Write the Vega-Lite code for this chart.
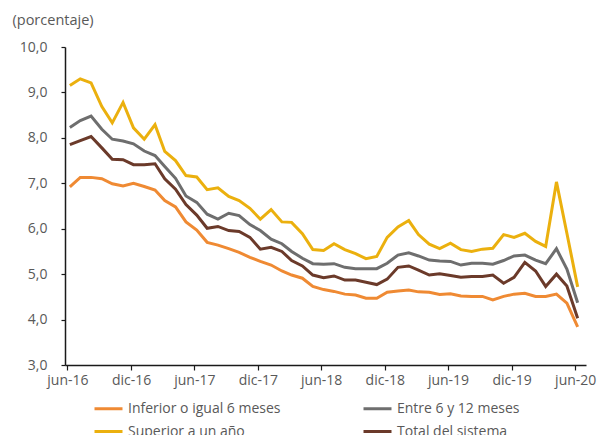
{
  "$schema": "https://vega.github.io/schema/vega-lite/v6.json",
  "width": 521,
  "height": 318,
  "autosize": {"type": "none"},
  "padding": {"left": 65, "top": 47, "right": 14, "bottom": 70},
  "background": "white",
  "config": {
    "view": {"stroke": null},
    "font": "Open Sans",
    "axis": {"grid": false}
  },
  "data": {
    "values": [
      {"d": "2016-06-15", "s": "Inferior o igual 6 meses", "v": 6.92},
      {"d": "2016-07-15", "s": "Inferior o igual 6 meses", "v": 7.13},
      {"d": "2016-08-15", "s": "Inferior o igual 6 meses", "v": 7.13},
      {"d": "2016-09-15", "s": "Inferior o igual 6 meses", "v": 7.10},
      {"d": "2016-10-15", "s": "Inferior o igual 6 meses", "v": 6.99},
      {"d": "2016-11-15", "s": "Inferior o igual 6 meses", "v": 6.94},
      {"d": "2016-12-15", "s": "Inferior o igual 6 meses", "v": 7.00},
      {"d": "2017-01-15", "s": "Inferior o igual 6 meses", "v": 6.93},
      {"d": "2017-02-15", "s": "Inferior o igual 6 meses", "v": 6.85},
      {"d": "2017-03-15", "s": "Inferior o igual 6 meses", "v": 6.62},
      {"d": "2017-04-15", "s": "Inferior o igual 6 meses", "v": 6.48},
      {"d": "2017-05-15", "s": "Inferior o igual 6 meses", "v": 6.15},
      {"d": "2017-06-15", "s": "Inferior o igual 6 meses", "v": 5.97},
      {"d": "2017-07-15", "s": "Inferior o igual 6 meses", "v": 5.70},
      {"d": "2017-08-15", "s": "Inferior o igual 6 meses", "v": 5.64},
      {"d": "2017-09-15", "s": "Inferior o igual 6 meses", "v": 5.56},
      {"d": "2017-10-15", "s": "Inferior o igual 6 meses", "v": 5.48},
      {"d": "2017-11-15", "s": "Inferior o igual 6 meses", "v": 5.37},
      {"d": "2017-12-15", "s": "Inferior o igual 6 meses", "v": 5.28},
      {"d": "2018-01-15", "s": "Inferior o igual 6 meses", "v": 5.20},
      {"d": "2018-02-15", "s": "Inferior o igual 6 meses", "v": 5.07},
      {"d": "2018-03-15", "s": "Inferior o igual 6 meses", "v": 4.98},
      {"d": "2018-04-15", "s": "Inferior o igual 6 meses", "v": 4.91},
      {"d": "2018-05-15", "s": "Inferior o igual 6 meses", "v": 4.73},
      {"d": "2018-06-15", "s": "Inferior o igual 6 meses", "v": 4.66},
      {"d": "2018-07-15", "s": "Inferior o igual 6 meses", "v": 4.62},
      {"d": "2018-08-15", "s": "Inferior o igual 6 meses", "v": 4.56},
      {"d": "2018-09-15", "s": "Inferior o igual 6 meses", "v": 4.54},
      {"d": "2018-10-15", "s": "Inferior o igual 6 meses", "v": 4.47},
      {"d": "2018-11-15", "s": "Inferior o igual 6 meses", "v": 4.47},
      {"d": "2018-12-15", "s": "Inferior o igual 6 meses", "v": 4.60},
      {"d": "2019-01-15", "s": "Inferior o igual 6 meses", "v": 4.63},
      {"d": "2019-02-15", "s": "Inferior o igual 6 meses", "v": 4.65},
      {"d": "2019-03-15", "s": "Inferior o igual 6 meses", "v": 4.61},
      {"d": "2019-04-15", "s": "Inferior o igual 6 meses", "v": 4.60},
      {"d": "2019-05-15", "s": "Inferior o igual 6 meses", "v": 4.55},
      {"d": "2019-06-15", "s": "Inferior o igual 6 meses", "v": 4.57},
      {"d": "2019-07-15", "s": "Inferior o igual 6 meses", "v": 4.52},
      {"d": "2019-08-15", "s": "Inferior o igual 6 meses", "v": 4.51},
      {"d": "2019-09-15", "s": "Inferior o igual 6 meses", "v": 4.51},
      {"d": "2019-10-15", "s": "Inferior o igual 6 meses", "v": 4.43},
      {"d": "2019-11-15", "s": "Inferior o igual 6 meses", "v": 4.51},
      {"d": "2019-12-15", "s": "Inferior o igual 6 meses", "v": 4.56},
      {"d": "2020-01-15", "s": "Inferior o igual 6 meses", "v": 4.58},
      {"d": "2020-02-15", "s": "Inferior o igual 6 meses", "v": 4.51},
      {"d": "2020-03-15", "s": "Inferior o igual 6 meses", "v": 4.51},
      {"d": "2020-04-15", "s": "Inferior o igual 6 meses", "v": 4.56},
      {"d": "2020-05-15", "s": "Inferior o igual 6 meses", "v": 4.36},
      {"d": "2020-06-15", "s": "Inferior o igual 6 meses", "v": 3.84},

      {"d": "2016-06-15", "s": "Entre 6 y 12 meses", "v": 8.23},
      {"d": "2016-07-15", "s": "Entre 6 y 12 meses", "v": 8.38},
      {"d": "2016-08-15", "s": "Entre 6 y 12 meses", "v": 8.48},
      {"d": "2016-09-15", "s": "Entre 6 y 12 meses", "v": 8.19},
      {"d": "2016-10-15", "s": "Entre 6 y 12 meses", "v": 7.97},
      {"d": "2016-11-15", "s": "Entre 6 y 12 meses", "v": 7.93},
      {"d": "2016-12-15", "s": "Entre 6 y 12 meses", "v": 7.87},
      {"d": "2017-01-15", "s": "Entre 6 y 12 meses", "v": 7.71},
      {"d": "2017-02-15", "s": "Entre 6 y 12 meses", "v": 7.61},
      {"d": "2017-03-15", "s": "Entre 6 y 12 meses", "v": 7.37},
      {"d": "2017-04-15", "s": "Entre 6 y 12 meses", "v": 7.11},
      {"d": "2017-05-15", "s": "Entre 6 y 12 meses", "v": 6.72},
      {"d": "2017-06-15", "s": "Entre 6 y 12 meses", "v": 6.58},
      {"d": "2017-07-15", "s": "Entre 6 y 12 meses", "v": 6.32},
      {"d": "2017-08-15", "s": "Entre 6 y 12 meses", "v": 6.21},
      {"d": "2017-09-15", "s": "Entre 6 y 12 meses", "v": 6.34},
      {"d": "2017-10-15", "s": "Entre 6 y 12 meses", "v": 6.29},
      {"d": "2017-11-15", "s": "Entre 6 y 12 meses", "v": 6.09},
      {"d": "2017-12-15", "s": "Entre 6 y 12 meses", "v": 5.96},
      {"d": "2018-01-15", "s": "Entre 6 y 12 meses", "v": 5.77},
      {"d": "2018-02-15", "s": "Entre 6 y 12 meses", "v": 5.67},
      {"d": "2018-03-15", "s": "Entre 6 y 12 meses", "v": 5.50},
      {"d": "2018-04-15", "s": "Entre 6 y 12 meses", "v": 5.35},
      {"d": "2018-05-15", "s": "Entre 6 y 12 meses", "v": 5.23},
      {"d": "2018-06-15", "s": "Entre 6 y 12 meses", "v": 5.22},
      {"d": "2018-07-15", "s": "Entre 6 y 12 meses", "v": 5.23},
      {"d": "2018-08-15", "s": "Entre 6 y 12 meses", "v": 5.15},
      {"d": "2018-09-15", "s": "Entre 6 y 12 meses", "v": 5.12},
      {"d": "2018-10-15", "s": "Entre 6 y 12 meses", "v": 5.12},
      {"d": "2018-11-15", "s": "Entre 6 y 12 meses", "v": 5.12},
      {"d": "2018-12-15", "s": "Entre 6 y 12 meses", "v": 5.24},
      {"d": "2019-01-15", "s": "Entre 6 y 12 meses", "v": 5.42},
      {"d": "2019-02-15", "s": "Entre 6 y 12 meses", "v": 5.47},
      {"d": "2019-03-15", "s": "Entre 6 y 12 meses", "v": 5.40},
      {"d": "2019-04-15", "s": "Entre 6 y 12 meses", "v": 5.31},
      {"d": "2019-05-15", "s": "Entre 6 y 12 meses", "v": 5.29},
      {"d": "2019-06-15", "s": "Entre 6 y 12 meses", "v": 5.28},
      {"d": "2019-07-15", "s": "Entre 6 y 12 meses", "v": 5.20},
      {"d": "2019-08-15", "s": "Entre 6 y 12 meses", "v": 5.24},
      {"d": "2019-09-15", "s": "Entre 6 y 12 meses", "v": 5.24},
      {"d": "2019-10-15", "s": "Entre 6 y 12 meses", "v": 5.22},
      {"d": "2019-11-15", "s": "Entre 6 y 12 meses", "v": 5.30},
      {"d": "2019-12-15", "s": "Entre 6 y 12 meses", "v": 5.40},
      {"d": "2020-01-15", "s": "Entre 6 y 12 meses", "v": 5.42},
      {"d": "2020-02-15", "s": "Entre 6 y 12 meses", "v": 5.31},
      {"d": "2020-03-15", "s": "Entre 6 y 12 meses", "v": 5.23},
      {"d": "2020-04-15", "s": "Entre 6 y 12 meses", "v": 5.56},
      {"d": "2020-05-15", "s": "Entre 6 y 12 meses", "v": 5.11},
      {"d": "2020-06-15", "s": "Entre 6 y 12 meses", "v": 4.37},

      {"d": "2016-06-15", "s": "Superior a un año", "v": 9.15},
      {"d": "2016-07-15", "s": "Superior a un año", "v": 9.30},
      {"d": "2016-08-15", "s": "Superior a un año", "v": 9.21},
      {"d": "2016-09-15", "s": "Superior a un año", "v": 8.69},
      {"d": "2016-10-15", "s": "Superior a un año", "v": 8.33},
      {"d": "2016-11-15", "s": "Superior a un año", "v": 8.78},
      {"d": "2016-12-15", "s": "Superior a un año", "v": 8.22},
      {"d": "2017-01-15", "s": "Superior a un año", "v": 7.97},
      {"d": "2017-02-15", "s": "Superior a un año", "v": 8.29},
      {"d": "2017-03-15", "s": "Superior a un año", "v": 7.70},
      {"d": "2017-04-15", "s": "Superior a un año", "v": 7.50},
      {"d": "2017-05-15", "s": "Superior a un año", "v": 7.17},
      {"d": "2017-06-15", "s": "Superior a un año", "v": 7.14},
      {"d": "2017-07-15", "s": "Superior a un año", "v": 6.86},
      {"d": "2017-08-15", "s": "Superior a un año", "v": 6.90},
      {"d": "2017-09-15", "s": "Superior a un año", "v": 6.71},
      {"d": "2017-10-15", "s": "Superior a un año", "v": 6.62},
      {"d": "2017-11-15", "s": "Superior a un año", "v": 6.45},
      {"d": "2017-12-15", "s": "Superior a un año", "v": 6.21},
      {"d": "2018-01-15", "s": "Superior a un año", "v": 6.42},
      {"d": "2018-02-15", "s": "Superior a un año", "v": 6.15},
      {"d": "2018-03-15", "s": "Superior a un año", "v": 6.14},
      {"d": "2018-04-15", "s": "Superior a un año", "v": 5.89},
      {"d": "2018-05-15", "s": "Superior a un año", "v": 5.54},
      {"d": "2018-06-15", "s": "Superior a un año", "v": 5.52},
      {"d": "2018-07-15", "s": "Superior a un año", "v": 5.67},
      {"d": "2018-08-15", "s": "Superior a un año", "v": 5.54},
      {"d": "2018-09-15", "s": "Superior a un año", "v": 5.45},
      {"d": "2018-10-15", "s": "Superior a un año", "v": 5.34},
      {"d": "2018-11-15", "s": "Superior a un año", "v": 5.39},
      {"d": "2018-12-15", "s": "Superior a un año", "v": 5.81},
      {"d": "2019-01-15", "s": "Superior a un año", "v": 6.04},
      {"d": "2019-02-15", "s": "Superior a un año", "v": 6.18},
      {"d": "2019-03-15", "s": "Superior a un año", "v": 5.87},
      {"d": "2019-04-15", "s": "Superior a un año", "v": 5.66},
      {"d": "2019-05-15", "s": "Superior a un año", "v": 5.56},
      {"d": "2019-06-15", "s": "Superior a un año", "v": 5.68},
      {"d": "2019-07-15", "s": "Superior a un año", "v": 5.54},
      {"d": "2019-08-15", "s": "Superior a un año", "v": 5.50},
      {"d": "2019-09-15", "s": "Superior a un año", "v": 5.55},
      {"d": "2019-10-15", "s": "Superior a un año", "v": 5.57},
      {"d": "2019-11-15", "s": "Superior a un año", "v": 5.87},
      {"d": "2019-12-15", "s": "Superior a un año", "v": 5.81},
      {"d": "2020-01-15", "s": "Superior a un año", "v": 5.90},
      {"d": "2020-02-15", "s": "Superior a un año", "v": 5.72},
      {"d": "2020-03-15", "s": "Superior a un año", "v": 5.61},
      {"d": "2020-04-15", "s": "Superior a un año", "v": 7.03},
      {"d": "2020-05-15", "s": "Superior a un año", "v": 5.90},
      {"d": "2020-06-15", "s": "Superior a un año", "v": 4.72},

      {"d": "2016-06-15", "s": "Total del sistema", "v": 7.85},
      {"d": "2016-07-15", "s": "Total del sistema", "v": 7.94},
      {"d": "2016-08-15", "s": "Total del sistema", "v": 8.03},
      {"d": "2016-09-15", "s": "Total del sistema", "v": 7.78},
      {"d": "2016-10-15", "s": "Total del sistema", "v": 7.53},
      {"d": "2016-11-15", "s": "Total del sistema", "v": 7.52},
      {"d": "2016-12-15", "s": "Total del sistema", "v": 7.41},
      {"d": "2017-01-15", "s": "Total del sistema", "v": 7.41},
      {"d": "2017-02-15", "s": "Total del sistema", "v": 7.43},
      {"d": "2017-03-15", "s": "Total del sistema", "v": 7.10},
      {"d": "2017-04-15", "s": "Total del sistema", "v": 6.87},
      {"d": "2017-05-15", "s": "Total del sistema", "v": 6.53},
      {"d": "2017-06-15", "s": "Total del sistema", "v": 6.30},
      {"d": "2017-07-15", "s": "Total del sistema", "v": 6.01},
      {"d": "2017-08-15", "s": "Total del sistema", "v": 6.05},
      {"d": "2017-09-15", "s": "Total del sistema", "v": 5.96},
      {"d": "2017-10-15", "s": "Total del sistema", "v": 5.94},
      {"d": "2017-11-15", "s": "Total del sistema", "v": 5.81},
      {"d": "2017-12-15", "s": "Total del sistema", "v": 5.55},
      {"d": "2018-01-15", "s": "Total del sistema", "v": 5.59},
      {"d": "2018-02-15", "s": "Total del sistema", "v": 5.50},
      {"d": "2018-03-15", "s": "Total del sistema", "v": 5.30},
      {"d": "2018-04-15", "s": "Total del sistema", "v": 5.18},
      {"d": "2018-05-15", "s": "Total del sistema", "v": 4.98},
      {"d": "2018-06-15", "s": "Total del sistema", "v": 4.92},
      {"d": "2018-07-15", "s": "Total del sistema", "v": 4.96},
      {"d": "2018-08-15", "s": "Total del sistema", "v": 4.87},
      {"d": "2018-09-15", "s": "Total del sistema", "v": 4.87},
      {"d": "2018-10-15", "s": "Total del sistema", "v": 4.82},
      {"d": "2018-11-15", "s": "Total del sistema", "v": 4.77},
      {"d": "2018-12-15", "s": "Total del sistema", "v": 4.89},
      {"d": "2019-01-15", "s": "Total del sistema", "v": 5.15},
      {"d": "2019-02-15", "s": "Total del sistema", "v": 5.18},
      {"d": "2019-03-15", "s": "Total del sistema", "v": 5.09},
      {"d": "2019-04-15", "s": "Total del sistema", "v": 4.98},
      {"d": "2019-05-15", "s": "Total del sistema", "v": 5.01},
      {"d": "2019-06-15", "s": "Total del sistema", "v": 4.97},
      {"d": "2019-07-15", "s": "Total del sistema", "v": 4.93},
      {"d": "2019-08-15", "s": "Total del sistema", "v": 4.95},
      {"d": "2019-09-15", "s": "Total del sistema", "v": 4.95},
      {"d": "2019-10-15", "s": "Total del sistema", "v": 4.98},
      {"d": "2019-11-15", "s": "Total del sistema", "v": 4.80},
      {"d": "2019-12-15", "s": "Total del sistema", "v": 4.93},
      {"d": "2020-01-15", "s": "Total del sistema", "v": 5.26},
      {"d": "2020-02-15", "s": "Total del sistema", "v": 5.07},
      {"d": "2020-03-15", "s": "Total del sistema", "v": 4.73},
      {"d": "2020-04-15", "s": "Total del sistema", "v": 5.00},
      {"d": "2020-05-15", "s": "Total del sistema", "v": 4.74},
      {"d": "2020-06-15", "s": "Total del sistema", "v": 4.03}
    ]
  },
  "mark": {"type": "line", "strokeWidth": 3},
  "encoding": {
    "x": {
      "field": "d",
      "type": "temporal",
      "scale": {
        "type": "utc",
        "domain": [
          {"year": 2016, "month": 6, "date": 1, "utc": true},
          {"year": 2020, "month": 7, "date": 9, "utc": true}
        ]
      },
      "axis": {
        "title": null,
        "values": [
          {"year": 2016, "month": 6, "date": 8, "utc": true},
          {"year": 2016, "month": 12, "date": 8, "utc": true},
          {"year": 2017, "month": 6, "date": 8, "utc": true},
          {"year": 2017, "month": 12, "date": 8, "utc": true},
          {"year": 2018, "month": 6, "date": 8, "utc": true},
          {"year": 2018, "month": 12, "date": 8, "utc": true},
          {"year": 2019, "month": 6, "date": 8, "utc": true},
          {"year": 2019, "month": 12, "date": 8, "utc": true},
          {"year": 2020, "month": 6, "date": 8, "utc": true}
        ],
        "labelExpr": "(utcFormat(datum.value, '%m') == '06' ? 'jun-' : 'dic-') + utcFormat(datum.value, '%y')",
        "domainColor": "#1a1a1a",
        "domainWidth": 1.5,
        "tickColor": "#1a1a1a",
        "tickWidth": 1.2,
        "tickSize": 5,
        "labelPadding": 3,
        "labelFontSize": 14,
        "labelColor": "#595959",
        "labelFlush": false,
        "labelOverlap": false
      }
    },
    "y": {
      "field": "v",
      "type": "quantitative",
      "scale": {"domain": [3, 10], "nice": false, "zero": false},
      "axis": {
        "values": [3, 4, 5, 6, 7, 8, 9, 10],
        "labelExpr": "replace(format(datum.value, '.1f'), '.', ',')",
        "title": "(porcentaje)",
        "titleAngle": 0,
        "titleX": -53,
        "titleY": -27,
        "titleAlign": "left",
        "titleBaseline": "middle",
        "titleFontWeight": "normal",
        "titleFontSize": 14.5,
        "titleColor": "#595959",
        "domainColor": "#1a1a1a",
        "domainWidth": 1.5,
        "tickColor": "#1a1a1a",
        "tickWidth": 1.2,
        "tickSize": 4,
        "labelPadding": 14,
        "labelFontSize": 14,
        "labelColor": "#595959"
      }
    },
    "color": {
      "field": "s",
      "type": "nominal",
      "scale": {
        "domain": ["Inferior o igual 6 meses", "Entre 6 y 12 meses", "Superior a un año", "Total del sistema"],
        "range": ["#EF8A33", "#6E6E6E", "#EBB00E", "#6B3A2A"]
      },
      "legend": {
        "title": null,
        "orient": "none",
        "direction": "horizontal",
        "legendX": 28,
        "legendY": 346,
        "columns": 2,
        "columnPadding": 76,
        "rowPadding": 0,
        "symbolType": "stroke",
        "symbolSize": 784,
        "symbolStrokeWidth": 3,
        "labelFontSize": 14,
        "labelColor": "#595959",
        "labelOffset": 4,
        "labelLimit": 300
      }
    }
  }
}
